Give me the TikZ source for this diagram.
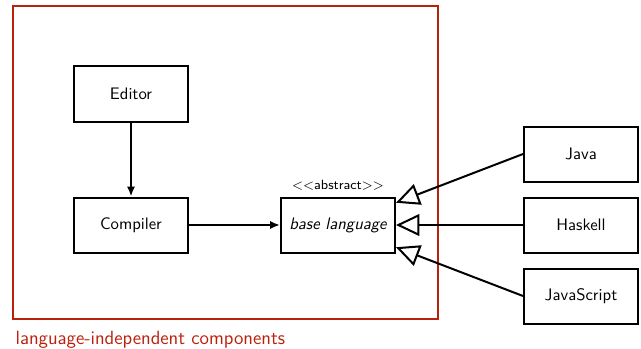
\documentclass[tikz,border=0pt]{standalone}
\usetikzlibrary{positioning,arrows.meta}
\definecolor{framered}{RGB}{186,33,13}

\begin{document}
\begin{tikzpicture}[font=\sffamily,
    line width=1.2pt,
    node distance=44.4pt,
    box/.style={draw, minimum width=68.4pt, minimum height=33pt},
    use/.style={-{Latex[length=6pt,width=5pt]}},
    inherit/.style={-{Triangle[open,length=14pt,width=13pt]}, fill=white}]
    \useasboundingbox (-78.6pt,56.4pt) rectangle (306pt,-152.4pt);
    \node[box] (editor) {Editor};
    \node[box] (compiler) [below=of editor] {Compiler};
    \node[box] (base) [right=54.6pt of compiler] {\itshape base language};
    \node[font=\sffamily\footnotesize, above=0pt of base] (abs) {<\kern0pt<abstract>\kern0pt>};
    \node[box] (haskell) [right=76.2pt of base] {Haskell};
    \node[box] (java) [above=8.4pt of haskell] {Java};
    \node[box] (js) [below=8.4pt of haskell] {JavaScript};
    % frame round the components
    \coordinate (fnw) at ([xshift=-36pt,yshift=35.4pt]editor.north west);
    \coordinate (fse) at ([xshift=25pt,yshift=-39pt]base.south east);
    \coordinate (fsw) at (fnw |- fse);
    \draw[framered] (fnw) rectangle (fse);
    \node[framered, font=\sffamily\fontsize{11.5}{13}\selectfont, anchor=north west, inner xsep=1pt, inner ysep=3pt] (lbl) at ([yshift=-4pt]fsw) {language-independent components};
    \draw[use] (editor) -- (compiler);
    \draw[use] (compiler) -- (base);
    \draw[inherit] (java.west) -- (base);
    \draw[inherit] (haskell) -- (base);
    \draw[inherit] (js.west) -- (base);
\end{tikzpicture}
\end{document}
